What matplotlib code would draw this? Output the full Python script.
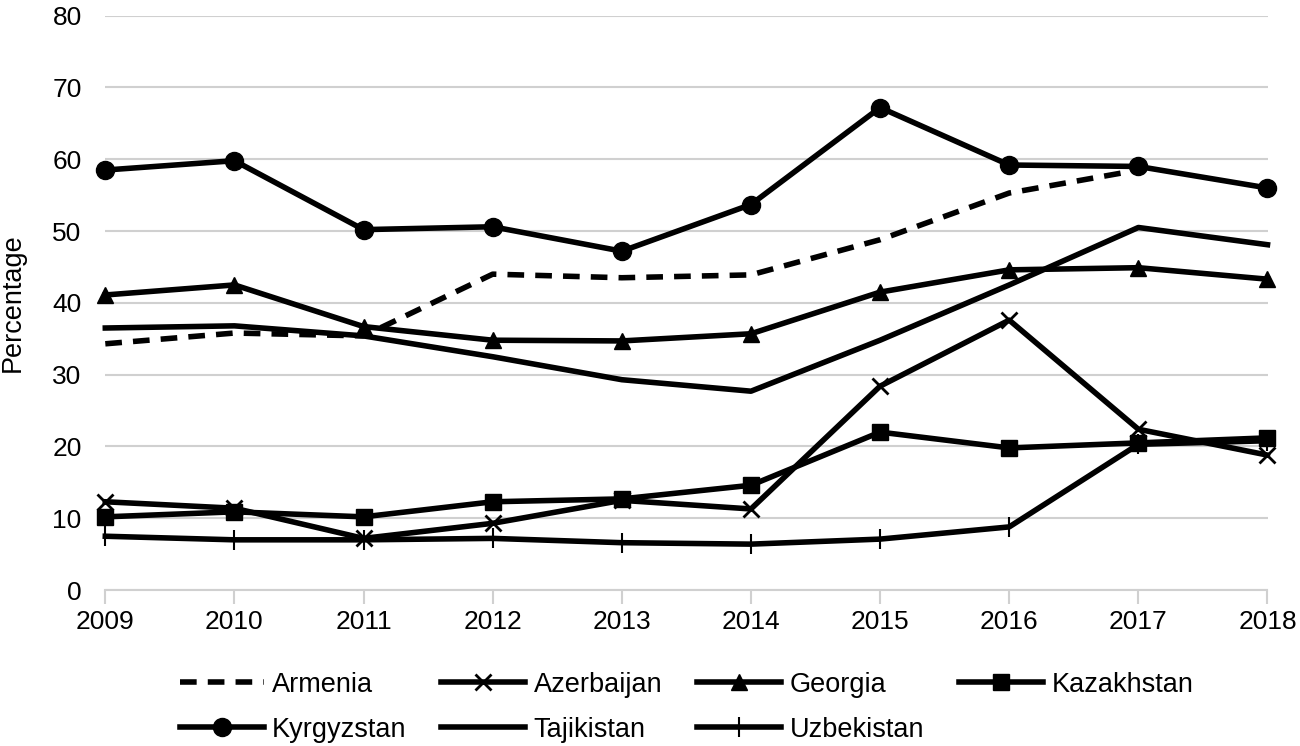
import numpy as np
import matplotlib.pyplot as plt

plt.rcParams['font.family'] = ['Liberation Sans', 'DejaVu Sans']

years = ['2009', '2010', '2011', '2012', '2013', '2014', '2015', '2016', '2017', '2018']

armenia = [34.3, 35.8, 35.4, 44.0, 43.5, 43.9, 48.8, 55.3, 58.5, np.nan]
azerbaijan = [12.3, 11.4, 7.2, 9.3, 12.5, 11.3, 28.4, 37.6, 22.4, 18.8]
georgia = [41.1, 42.5, 36.7, 34.8, 34.7, 35.7, 41.5, 44.6, 44.9, 43.3]
kazakhstan = [10.2, 10.9, 10.2, 12.3, 12.7, 14.6, 22.0, 19.8, 20.5, 21.2]
kyrgyzstan = [58.5, 59.8, 50.2, 50.6, 47.2, 53.7, 67.2, 59.2, 59.0, 56.0]
tajikistan = [36.5, 36.8, 35.4, 32.5, 29.3, 27.7, 34.8, 42.5, 50.5, 48.1]
uzbekistan = [7.5, 7.0, 7.0, 7.2, 6.6, 6.4, 7.1, 8.8, 20.3, 20.8]

fig = plt.figure(figsize=(13, 7.46), dpi=100)
ax = fig.add_axes([0.081, 0.209, 0.894, 0.770])

x = np.arange(len(years))
lw = 4
kw = dict(color='black', lw=lw, clip_on=False)
h_arm, = ax.plot(x, armenia, ls=(0, (3, 2)), label='Armenia', **kw)
h_aze, = ax.plot(x, azerbaijan, marker='x', ms=12, mew=2, label='Azerbaijan', **kw)
h_geo, = ax.plot(x, georgia, marker='^', ms=12, label='Georgia', **kw)
h_kaz, = ax.plot(x, kazakhstan, marker='s', ms=11, label='Kazakhstan', **kw)
h_kgz, = ax.plot(x, kyrgyzstan, marker='o', ms=13, label='Kyrgyzstan', **kw)
h_tjk, = ax.plot(x, tajikistan, label='Tajikistan', **kw)
h_uzb, = ax.plot(x, uzbekistan, marker='|', ms=14, mew=1.5, label='Uzbekistan', **kw)

ax.set_xlim(0, 9)
ax.set_ylim(0, 80)
ax.set_yticks(range(0, 81, 10))
ax.set_xticks(x)
ax.set_xticklabels(years)
ax.grid(axis='y', color='#d0d0d0', lw=1.5)
ax.set_axisbelow(True)
for s in ['top', 'right', 'left']:
    ax.spines[s].set_visible(False)
ax.spines['bottom'].set_color('#d0d0d0')
ax.spines['bottom'].set_linewidth(1.5)
ax.tick_params(axis='y', length=0, labelsize=19, pad=17)
ax.tick_params(axis='x', length=10, width=1.5, color='#d0d0d0', labelsize=19, pad=4)
ax.set_ylabel('Percentage', fontsize=19.5, labelpad=19)

# column-major fill so rows read Armenia..Kazakhstan / Kyrgyzstan..Uzbekistan
order = [h_arm, h_kgz, h_aze, h_tjk, h_geo, h_uzb, h_kaz]
ax.legend(handles=order, loc='upper center', bbox_to_anchor=(0.5, -0.1), ncol=4,
          frameon=False, fontsize=19.5, handlelength=3.1, columnspacing=1.3,
          handletextpad=0.3, labelspacing=0.7)

fig.savefig('out.png', dpi=100)
